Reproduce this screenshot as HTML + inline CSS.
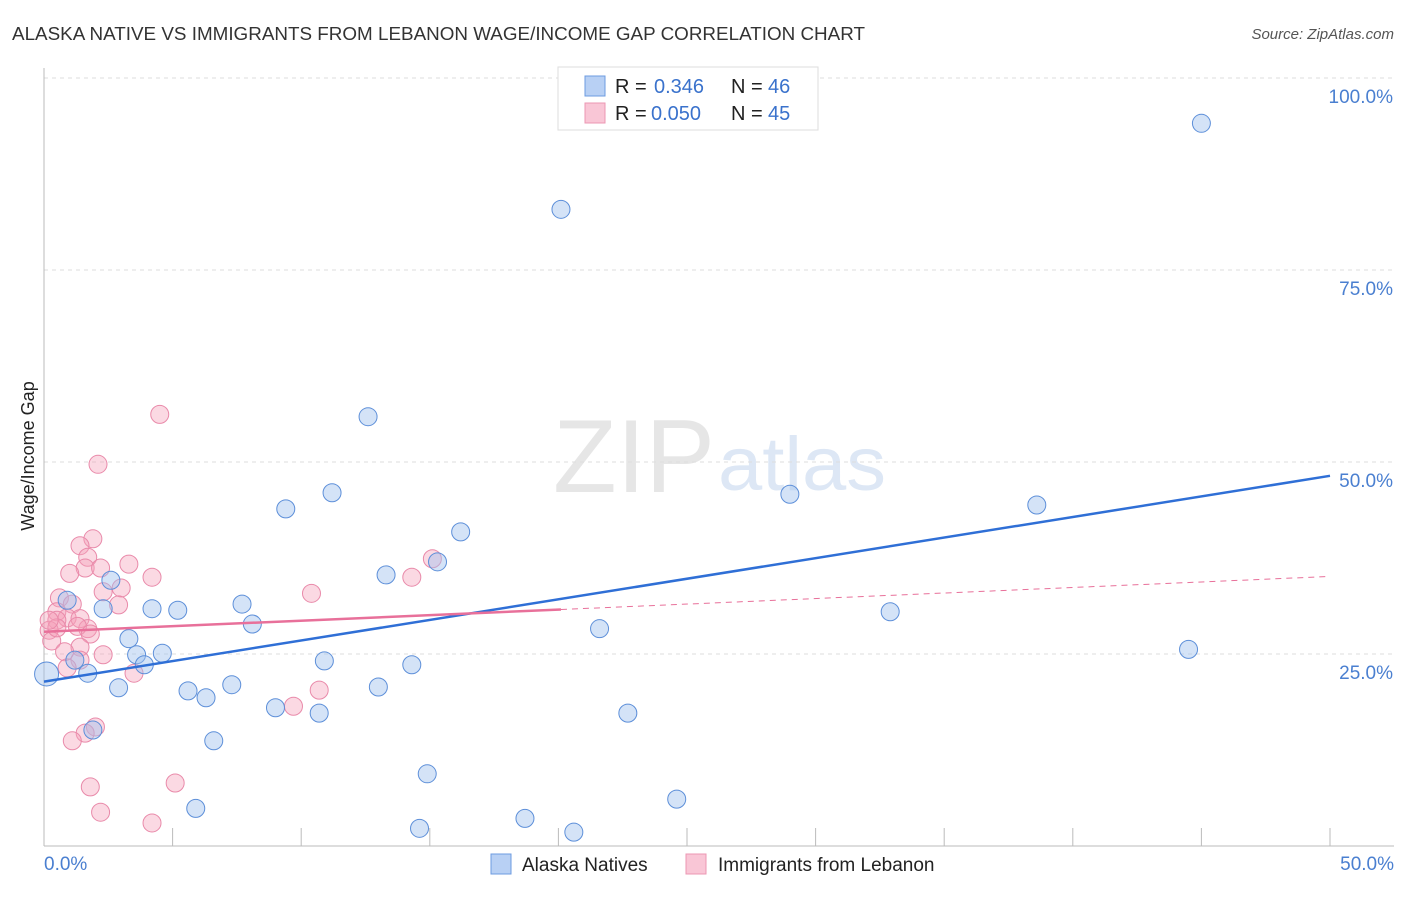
<!DOCTYPE html>
<html><head><meta charset="utf-8"><style>
body{margin:0;background:#fff;font-family:"Liberation Sans",sans-serif}
svg text{font-family:"Liberation Sans",sans-serif}
</style></head><body>
<svg id="c" width="1406" height="892" xmlns="http://www.w3.org/2000/svg">
<text x="12" y="40" font-size="18" fill="#333" textLength="853" lengthAdjust="spacingAndGlyphs">ALASKA NATIVE VS IMMIGRANTS FROM LEBANON WAGE/INCOME GAP CORRELATION CHART</text>
<text x="1394" y="39" font-size="15" fill="#555" font-style="italic" text-anchor="end">Source: ZipAtlas.com</text>
<g>
<text x="553" y="492" font-size="104" font-family="Liberation Serif" fill="#e6e6e6" textLength="162" lengthAdjust="spacingAndGlyphs">ZIP</text>
<text x="718" y="490" font-size="76" fill="#dde7f5" textLength="168" lengthAdjust="spacingAndGlyphs">atlas</text>
</g>
<g id="grid"></g>
<line x1="44" y1="68" x2="44" y2="846" stroke="#bbb"/>
<line x1="44" y1="846" x2="1394" y2="846" stroke="#bbb"/>
<text x="34" y="456" font-size="18" fill="#222" text-anchor="middle" transform="rotate(-90 34 456)">Wage/Income Gap</text>
<text x="44" y="870" font-size="19" fill="#4a7fd0">0.0%</text>
<text x="1394" y="870" font-size="19" fill="#4a7fd0" text-anchor="end">50.0%</text>
<g id="pts"></g>
<g id="trend"></g>
<g>
<rect x="558" y="67" width="260" height="63" fill="#fff" stroke="#ddd"/>
<rect x="585" y="76" width="20" height="20" fill="#b8d0f4" stroke="#6d9be0"/>
<rect x="585" y="103" width="20" height="20" fill="#f9c6d6" stroke="#ec97b3"/>
<text x="615" y="93" font-size="20" fill="#222">R =</text>
<text x="654" y="93" font-size="20" fill="#3a72cc">0.346</text>
<text x="731" y="93" font-size="20" fill="#222">N =</text>
<text x="768" y="93" font-size="20" fill="#3a72cc">46</text>
<text x="615" y="120" font-size="20" fill="#222">R =</text>
<text x="651" y="120" font-size="20" fill="#3a72cc">0.050</text>
<text x="731" y="120" font-size="20" fill="#222">N =</text>
<text x="768" y="120" font-size="20" fill="#3a72cc">45</text>
</g>
<g>
<rect x="491" y="854" width="20" height="20" fill="#b8d0f4" stroke="#6d9be0"/>
<text x="522" y="871" font-size="19" fill="#222">Alaska Natives</text>
<rect x="686" y="854" width="20" height="20" fill="#f9c6d6" stroke="#ec97b3"/>
<text x="718" y="871" font-size="19" fill="#222">Immigrants from Lebanon</text>
</g>
</svg>
<script>
const yTicks=[25,50,75,100];
const yTickLabels=["25.0%","50.0%","75.0%","100.0%"];
const xTicks=[0,5,10,15,20,25,30,35,40,45,50];
const blueX=[45.0,20.1,12.6,11.2,9.4,16.2,29.0,38.6,13.3,15.3,2.6,0.9,2.3,4.2,5.2,7.7,8.1,32.9,21.6,3.3,3.6,3.9,4.6,1.2,1.7,0.1,10.9,14.3,44.5,2.9,5.6,6.3,7.3,13.0,9.0,10.7,22.7,1.9,6.6,14.9,5.9,14.6,18.7,20.6,24.6];
const blueY=[94.1,82.9,55.9,46.0,43.9,40.9,45.8,44.4,35.3,37.0,34.6,32.0,30.9,30.9,30.7,31.5,28.9,30.5,28.3,27.0,24.9,23.6,25.1,24.2,22.5,22.4,24.1,23.6,25.6,20.6,20.2,19.3,21.0,20.7,18.0,17.3,17.3,15.1,13.7,9.4,4.9,2.3,3.6,1.8,6.1];
const pinkX=[4.5,2.1,1.9,1.4,1.7,1.6,1.0,2.2,3.3,4.2,3.0,2.3,2.9,15.1,14.3,10.4,0.6,1.1,0.5,0.9,0.5,1.4,1.7,1.3,0.2,1.8,0.3,1.4,0.8,1.4,0.9,3.5,10.7,9.7,2.0,1.6,1.1,1.8,5.1,2.2,4.2,2.3,0.5,0.2];
const pinkY=[56.2,49.7,40.0,39.1,37.6,36.2,35.5,36.2,36.7,35.0,33.6,33.1,31.4,37.4,35.0,32.9,32.3,31.5,30.5,29.7,29.4,29.6,28.3,28.6,28.1,27.6,26.7,25.9,25.3,24.2,23.2,22.5,20.3,18.2,15.5,14.7,13.7,7.7,8.2,4.4,3.0,24.9,28.4,29.4];
const blueTrend=[21.4,48.2];
const pinkTrend=[27.9,35.1];
const pinkSolidEnd=20.1;
const NS="http://www.w3.org/2000/svg";
const sx=v=>44+v/50*1286, sy=v=>846-v/25*192;
function mk(t,a,p){const e=document.createElementNS(NS,t);for(const k in a)e.setAttribute(k,a[k]);p.appendChild(e);return e;}
const grid=document.getElementById('grid');
yTicks.forEach((t,i)=>{
 const l=mk('line',{x1:44,x2:1394,y1:sy(t),y2:sy(t),stroke:'#ddd','stroke-dasharray':'4,4'},grid);
 
 
 const tx=mk('text',{x:1393,y:sy(t)+25,'font-size':19,fill:'#4a7fd0','text-anchor':'end'},grid);
 tx.textContent=yTickLabels[i];
 
 
});
xTicks.forEach(t=>{
 const l=mk('line',{x1:sx(t),x2:sx(t),y1:828,y2:846,stroke:'#bbb'},grid);
 
 
});
const pts=document.getElementById('pts');
pinkX.forEach((x,i)=>{
 const c=mk('circle',{cx:sx(x),cy:sy(pinkY[i]),r:9,fill:'rgba(244,160,186,0.4)',stroke:'#e98aaa','stroke-width':1},pts);
 
 
});
blueX.forEach((x,i)=>{
 const c=mk('circle',{cx:sx(x),cy:sy(blueY[i]),r:i==25?12:9,fill:'rgba(160,192,238,0.45)',stroke:'#5d8fd9','stroke-width':1},pts);
 
 
});
const tr=document.getElementById('trend');
const b=mk('line',{x1:sx(0),y1:sy(blueTrend[0]),x2:sx(50),y2:sy(blueTrend[1]),stroke:'#2f6fd6','stroke-width':2.5},tr);


const pe=pinkTrend[0]+(pinkTrend[1]-pinkTrend[0])*pinkSolidEnd/50;
const p1=mk('line',{x1:sx(0),y1:sy(pinkTrend[0]),x2:sx(pinkSolidEnd),y2:sy(pe),stroke:'#e8709a','stroke-width':2.5},tr);


const p2=mk('line',{x1:sx(pinkSolidEnd),y1:sy(pe),x2:sx(50),y2:sy(pinkTrend[1]),stroke:'#e8709a','stroke-width':1,'stroke-dasharray':'6,5'},tr);


</script>
</body></html>
